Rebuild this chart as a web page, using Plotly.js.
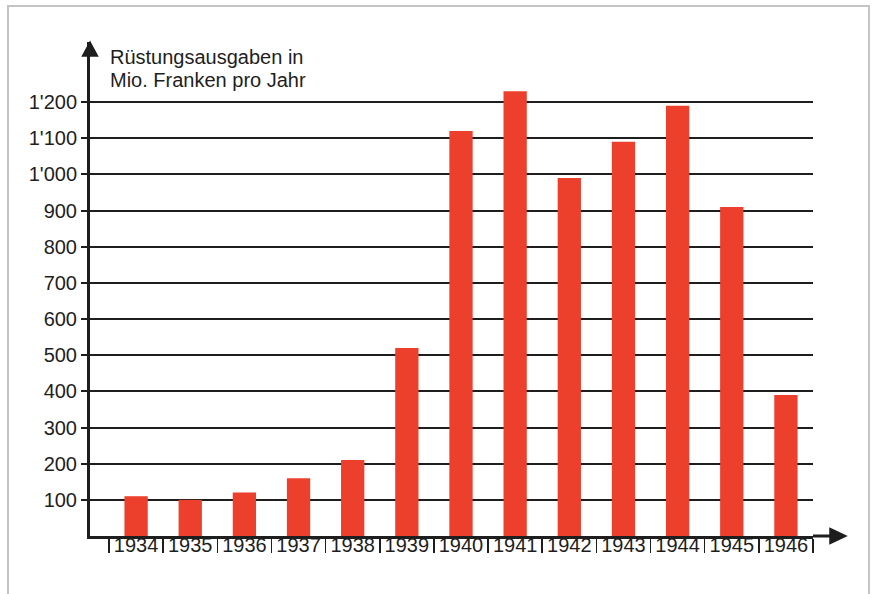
<!DOCTYPE html>
<html>
<head>
<meta charset="utf-8">
<script src="https://cdn.plot.ly/plotly-3.0.1.min.js"></script>
<style>
html,body{margin:0;padding:0;background:#fff;}
#chart{width:872px;height:594px;}
</style>
</head>
<body>
<div id="chart"></div>
<script>
// Data
const years = ['1934','1935','1936','1937','1938','1939','1940','1941','1942','1943','1944','1945','1946'];
const spending = [110, 100, 120, 160, 210, 520, 1120, 1230, 990, 1090, 1190, 910, 390];
const yTickVals = [100, 200, 300, 400, 500, 600, 700, 800, 900, 1000, 1100, 1200];
const yTickText = ['100', '200', '300', '400', '500', '600', '700', '800', '900', "1'000", "1'100", "1'200"];
const titleLines = ['Rüstungsausgaben in', 'Mio. Franken pro Jahr'];

const W = 872, H = 594;
const M = {l: 90, r: 59, t: 42, b: 58};
const plotW = W - M.l - M.r, plotH = H - M.t - M.b;
const yMax = 1366;
const xMin = -0.851, xMax = years.length - 0.5;
const ink = '#1e1e1e';
const fontFam = 'Arial, "Liberation Sans", Helvetica, sans-serif';

const px2paperX = p => (p - M.l) / plotW;
const px2paperY = p => (H - M.b - p) / plotH;

const trace = {
  type: 'bar',
  x: years,
  y: spending,
  marker: {color: '#ec3f2c', line: {width: 0}},
  width: 0.43,
  hoverinfo: 'x+y'
};

const layout = {
  width: W, height: H,
  margin: M,
  paper_bgcolor: '#ffffff',
  plot_bgcolor: '#ffffff',
  showlegend: false,
  font: {family: fontFam, size: 20, color: ink},
  xaxis: {
    type: 'category',
    range: [xMin, xMax],
    showgrid: false,
    zeroline: false,
    showline: true, linecolor: ink, linewidth: 3,
    ticks: 'outside', tickson: 'boundaries', ticklen: 14, tickwidth: 1.5, tickcolor: ink,
    ticklabelstandoff: -11,
    tickfont: {family: fontFam, size: 20, color: ink},
    fixedrange: true
  },
  yaxis: {
    range: [0, yMax],
    tickvals: yTickVals,
    ticktext: yTickText,
    showgrid: true, gridcolor: ink, gridwidth: 2,
    zeroline: false,
    showline: true, linecolor: ink, linewidth: 3,
    ticks: 'outside', ticklen: 6, tickwidth: 2, tickcolor: ink,
    tickfont: {family: fontFam, size: 20, color: ink},
    fixedrange: true
  },
  annotations: [
    {xref: 'paper', yref: 'paper', x: px2paperX(108), y: px2paperY(57), xanchor: 'left', yanchor: 'middle',
     text: titleLines[0], showarrow: false, font: {family: fontFam, size: 20, color: ink}},
    {xref: 'paper', yref: 'paper', x: px2paperX(108), y: px2paperY(80), xanchor: 'left', yanchor: 'middle',
     text: titleLines[1], showarrow: false, font: {family: fontFam, size: 20, color: ink}}
  ],
  shapes: [
    // frame
    {type: 'rect', xref: 'paper', yref: 'paper', layer: 'below',
     x0: px2paperX(8), x1: px2paperX(869), y0: px2paperY(600), y1: px2paperY(6),
     line: {color: '#c4c4c4', width: 2}, fillcolor: 'rgba(0,0,0,0)'},
    // x-axis extension beyond plot area
    {type: 'line', xref: 'paper', yref: 'paper', x0: 1, x1: px2paperX(834), y0: 0, y1: 0,
     line: {color: ink, width: 3}},
    // y-axis arrow head
    {type: 'path', xref: 'paper', yref: 'paper', xsizemode: 'pixel', ysizemode: 'pixel',
     xanchor: 0, yanchor: 1, path: 'M -7.5 -14 L 0 0 L 7.5 -14 Z',
     fillcolor: ink, line: {color: ink, width: 1.5}},
    // x-axis arrow head
    {type: 'path', xref: 'paper', yref: 'paper', xsizemode: 'pixel', ysizemode: 'pixel',
     xanchor: px2paperX(846), yanchor: 0, path: 'M -16 -7.5 L 0 0 L -16 7.5 Z',
     fillcolor: ink, line: {color: ink, width: 1.5}}
  ]
};

Plotly.newPlot('chart', [trace], layout, {displayModeBar: false, staticPlot: true});
</script>
</body>
</html>
